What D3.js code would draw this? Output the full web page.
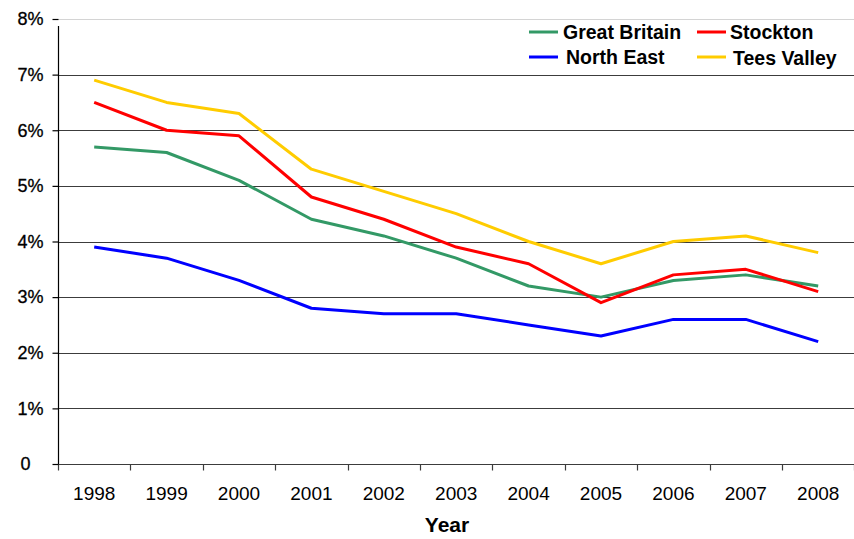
<!DOCTYPE html>
<html>
<head>
<meta charset="utf-8">
<script src="https://cdn.jsdelivr.net/npm/d3@7"></script>
<style>
  html, body { margin: 0; padding: 0; background: #fff; }
  svg { display: block; font-family: "Liberation Sans", Arial, sans-serif; }
</style>
</head>
<body>
<svg id="chart" width="854" height="539"></svg>
<script>
const years = ["1998","1999","2000","2001","2002","2003","2004","2005","2006","2007","2008"];
const greatBritain = [5.7, 5.6, 5.1, 4.4, 4.1, 3.7, 3.2, 3.0, 3.3, 3.4, 3.2];
const stockton     = [6.5, 6.0, 5.9, 4.8, 4.4, 3.9, 3.6, 2.9, 3.4, 3.5, 3.1];
const northEast    = [3.9, 3.7, 3.3, 2.8, 2.7, 2.7, 2.5, 2.3, 2.6, 2.6, 2.2];
const teesValley   = [6.9, 6.5, 6.3, 5.3, 4.9, 4.5, 4.0, 3.6, 4.0, 4.1, 3.8];
const yTicks = [0, 1, 2, 3, 4, 5, 6, 7, 8];
const seriesNames = ["Great Britain", "Stockton", "North East", "Tees Valley"];
const xTitle = "Year";

const series = [
  { name: seriesNames[0], values: greatBritain, color: "#339966" },
  { name: seriesNames[1], values: stockton,     color: "#ff0000" },
  { name: seriesNames[2], values: northEast,    color: "#0000ff" },
  { name: seriesNames[3], values: teesValley,   color: "#ffcc00" }
];

const svg = d3.select("#chart");
const pLeft = 58, pRight = 854.4, pTop = 19, pBottom = 464;

const x = d3.scaleBand().domain(years).range([pLeft, pRight]).padding(0);
const y = d3.scaleLinear().domain([0, 8]).range([pBottom, pTop]);

// gridlines
svg.append("g").selectAll("line").data(yTicks.filter(d => d > 0)).join("line")
  .attr("x1", pLeft).attr("x2", 854)
  .attr("y1", d => Math.round(y(d)) + 0.5).attr("y2", d => Math.round(y(d)) + 0.5)
  .attr("stroke", d => d === 8 ? "#d4d4d4" : "#3c3c3c")
  .attr("stroke-width", 1.2);

// x axis line + boundary ticks
const xb = Math.round(y(0)) + 0.5;
svg.append("line").attr("x1", pLeft).attr("x2", 854).attr("y1", xb).attr("y2", xb)
  .attr("stroke", "#3c3c3c").attr("stroke-width", 1.2);
const bounds = years.map(d => x(d)).concat([x(years[years.length - 1]) + x.bandwidth()]);
svg.append("g").selectAll("line").data(bounds).join("line")
  .attr("x1", d => Math.round(d) + 0.5).attr("x2", d => Math.round(d) + 0.5)
  .attr("y1", xb).attr("y2", xb + 6)
  .attr("stroke", "#3c3c3c").attr("stroke-width", 1.2);

// x labels
const xAxis = svg.append("g").attr("transform", `translate(0,${pBottom})`)
  .call(d3.axisBottom(x).tickSize(0).tickPadding(0));
xAxis.select(".domain").remove();
xAxis.selectAll("text")
  .attr("y", 36).attr("dy", null)
  .attr("fill", "#000").style("font-size", "19px")
  .style("font-family", "'Liberation Sans', Arial, sans-serif");

// y axis
const yAxis = svg.append("g").attr("transform", `translate(${pLeft + 0.5},0)`)
  .call(d3.axisLeft(y).tickValues(yTicks).tickSize(6)
    .tickFormat(d => d === 0 ? "0" : d + "%"));
yAxis.select(".domain").attr("d", `M0,${pTop + 7}V${pBottom}`).attr("stroke", "#000").attr("stroke-width", 1.2);
yAxis.selectAll(".tick line").attr("stroke", "#000").attr("stroke-width", 1.2);
yAxis.selectAll("text")
  .attr("x", d => d === 0 ? -38 : -41).attr("text-anchor", "start")
  .attr("fill", "#000").attr("stroke", "#000").attr("stroke-width", 0.3)
  .style("font-size", "18px")
  .style("font-family", "'Liberation Sans', Arial, sans-serif");

// lines
const line = d3.line()
  .x((d, i) => x(years[i]) + x.bandwidth() / 2)
  .y(d => y(d));
svg.append("g").selectAll("path").data(series).join("path")
  .attr("d", s => line(s.values))
  .attr("fill", "none")
  .attr("stroke", s => s.color)
  .attr("stroke-width", 3)
  .attr("stroke-linejoin", "round");

// x title
svg.append("text").attr("x", 447).attr("y", 532)
  .attr("text-anchor", "middle").attr("font-weight", "bold")
  .style("font-size", "21px").text(xTitle);

// legend
const legendPos = [
  { lx: 529, tx: 563, ly: 32, ty: 39 },
  { lx: 697, tx: 730, ly: 32, ty: 39 },
  { lx: 529, tx: 566, ly: 57, ty: 64 },
  { lx: 697, tx: 733, ly: 57, ty: 65 }
];
const lg = svg.append("g").selectAll("g").data(series).join("g");
lg.append("line")
  .attr("x1", (d, i) => legendPos[i].lx).attr("x2", (d, i) => legendPos[i].lx + 29)
  .attr("y1", (d, i) => legendPos[i].ly).attr("y2", (d, i) => legendPos[i].ly)
  .attr("stroke", d => d.color).attr("stroke-width", 3);
lg.append("text")
  .attr("x", (d, i) => legendPos[i].tx).attr("y", (d, i) => legendPos[i].ty)
  .attr("font-weight", "bold").style("font-size", "19.5px")
  .text(d => d.name);
</script>
</body>
</html>
